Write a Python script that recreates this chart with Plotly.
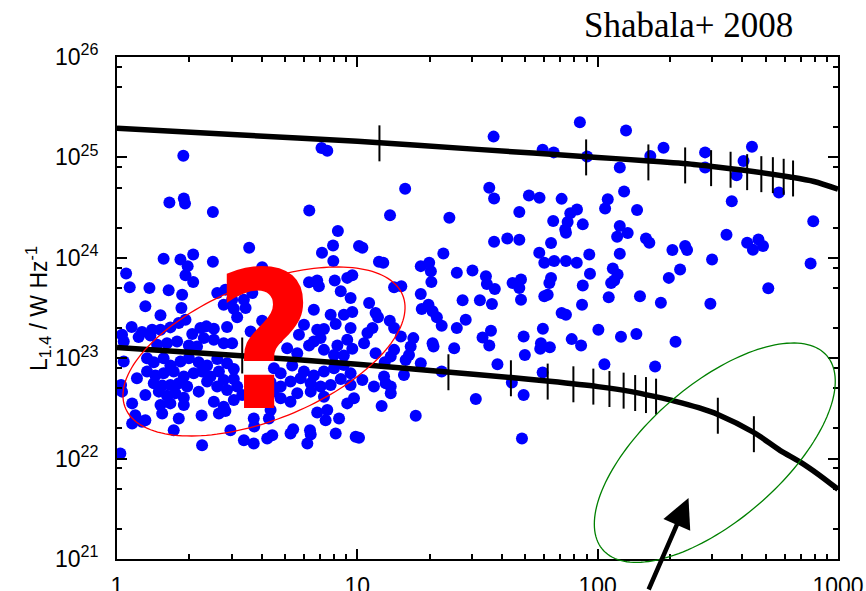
import numpy as np
import plotly.graph_objects as go

# ---------------- data (stored as log10 values) ----------------
# log10 of linear size (kpc) and log10 of 1.4 GHz luminosity (W/Hz) for the sources
log_size = [
    # upper left
    0.276, 0.851, 0.875, 0.218, 0.278, 0.283, 0.399, 0.800, 0.919, 0.550, 0.899, 0.853, 0.317,
    # dense cluster, top strip
    0.194, 0.264, 0.294, 0.399, 0.285, 0.317, 0.038, 0.053, 0.135, 0.215, 0.271, 0.417, 0.451, 0.563,
    0.604, 0.799, 0.833, 0.840, 0.900, 0.906, 0.958, 0.979, 0.931, 0.972,
    # mid upper
    0.118, 0.181, 0.268, 0.444, 0.479, 0.486, 0.535, 0.528, 0.500, 0.819, 0.889, 0.944, 0.979, 0.604,
    0.664, 0.778, 0.910,
    # around the lower track
    0.061, 0.021, 0.028, 0.104, 0.090, 0.139, 0.146, 0.181, 0.222, 0.257, 0.285, 0.313, 0.347, 0.372,
    0.403, 0.458, 0.361, 0.403, 0.444, 0.479, 0.167, 0.208, 0.250, 0.299, 0.333, 0.556, 0.618, 0.757,
    0.833, 0.861, 0.847, 0.819, 0.972, 0.958, 0.917, 0.979, 0.708, 0.750, 0.799, 0.861, 0.903, 0.944,
    0.667,
    # below the lower track
    0.028, 0.125, 0.153, 0.194, 0.222, 0.264, 0.299, 0.340, 0.375, 0.417, 0.458, 0.486, 0.125, 0.160,
    0.194, 0.236, 0.278, 0.319, 0.354, 0.389, 0.424, 0.444, 0.486, 0.083, 0.153, 0.188, 0.222, 0.257,
    0.292, 0.340, 0.375, 0.417, 0.458, 0.500, 0.017, 0.021, 0.118, 0.174, 0.208, 0.243, 0.278, 0.653,
    0.681, 0.729, 0.778, 0.819, 0.861, 0.903, 0.944, 0.972, 0.639, 0.681, 0.722, 0.764, 0.806, 0.847,
    0.889, 0.931, 0.653, 0.750, 0.806, 0.861, 0.972,
    # lower part of the cluster
    0.063, 0.181, 0.222, 0.278, 0.403, 0.444, 0.486, 0.521, 0.188, 0.076, 0.118, 0.257, 0.352, 0.424,
    0.451, 0.569, 0.639, 0.632, 0.681, 0.722, 0.833, 0.875, 0.868, 0.924, 0.958, 0.986, 0.063, 0.104,
    0.571,
    0.236, 0.472, 0.528, 0.569, 0.625, 0.646, 0.722, 0.733, 0.803, 0.806, 0.792, 0.910, 0.993, 0.354,
    0.014,
    # 10-100 kpc, upper
    1.926, 1.567, 1.771, 1.817, 1.956, 1.199, 1.549, 1.569, 1.714, 1.758, 1.850, 1.136, 1.383, 1.674,
    1.886, 1.914, 1.815, 1.875, 1.865, 1.868, 1.938, 1.007, 1.021, 1.569, 1.624, 1.674, 1.806, 1.358,
    1.757, 1.965,
    # 10-100 kpc, lower
    1.090, 1.108, 1.264, 1.299, 1.306, 1.414, 1.479, 1.535, 1.539, 1.572, 1.646, 1.681, 1.674, 1.778,
    1.819, 1.868, 1.913, 1.968, 1.806, 1.799, 1.792, 1.778, 1.938, 1.308, 1.153, 1.183, 1.264, 1.438,
    1.510, 1.560, 1.681, 1.850, 1.868, 1.935, 1.049, 1.076, 1.086, 1.268, 1.296, 1.313, 1.331, 1.135,
    1.153, 1.181, 1.063, 1.042, 1.028, 1.076, 1.451, 1.351, 1.414, 1.521, 1.556, 1.549, 1.403, 1.313,
    1.317, 1.233, 1.222, 1.215, 1.201, 1.264, 1.153, 1.139, 1.114, 1.772, 1.692, 1.697, 1.764, 1.761,
    1.801, 1.892, 1.931, 1.583, 1.771, 1.351, 1.194, 1.111, 1.118, 1.139, 1.139, 1.069, 1.021, 1.101,
    1.243, 1.493, 1.643, 1.692, 1.685, 1.007,
    # 100-1000 kpc, upper
    2.118, 2.274, 2.219, 2.447, 2.642, 2.092, 2.447, 2.607, 2.578, 2.042, 2.031, 2.110, 2.164, 2.558,
    2.754, 2.897, 2.092, 2.081, 2.125, 2.201, 2.215, 2.311, 2.364, 2.372, 2.536, 2.622, 2.646, 2.669,
    2.688, 2.092,
    # 100-1000 kpc, lower
    2.476, 2.886, 2.063, 2.083, 2.056, 2.069, 2.343, 2.296, 2.046, 2.176, 2.263, 2.469, 2.710, 2.003,
    2.097, 2.161, 2.324, 2.028, 2.239,
]
log_lum = [
    25.017, 25.093, 25.067, 24.550, 24.590, 24.540, 24.457, 24.470, 24.267, 24.100, 24.123, 24.050, 24.033,
    23.990, 23.983, 23.917, 23.960, 23.827, 23.760, 23.843, 23.707, 23.700, 23.677, 23.633, 23.650, 23.683, 23.650,
    23.907, 23.757, 23.773, 23.717, 23.967, 23.773, 23.800, 23.827, 23.667, 23.600,
    23.517, 23.427, 23.500, 23.533, 23.583, 23.493, 23.500, 23.583, 23.407, 23.483, 23.433, 23.433, 23.460, 23.373,
    23.393, 23.333, 23.340,
    23.310, 23.233, 23.167, 23.260, 23.210, 23.227, 23.283, 23.283, 23.307, 23.350, 23.383, 23.240, 23.300, 23.317,
    23.293, 23.310, 23.200, 23.183, 23.150, 23.150, 23.133, 23.150, 23.167, 23.127, 23.117, 23.267, 23.300, 23.233,
    23.283, 23.290, 23.200, 23.167, 23.300, 23.183, 23.127, 23.093, 23.100, 23.050, 23.127, 23.083, 23.033, 23.027,
    23.200,
    22.967, 23.000, 22.960, 23.000, 22.927, 22.967, 23.000, 22.960, 22.927, 22.993, 22.950, 22.893, 22.867, 22.827,
    22.850, 22.867, 22.817, 22.850, 22.867, 22.817, 22.867, 22.783, 22.793, 22.800, 22.750, 22.727, 22.733, 22.750,
    22.717, 22.667, 22.767, 22.717, 22.683, 22.717, 22.733, 22.667, 22.633, 22.667, 22.627, 22.650, 22.607, 22.900,
    22.850, 22.927, 22.867, 22.827, 22.867, 22.900, 22.933, 22.850, 22.760, 22.717, 22.767, 22.800, 22.750, 22.717,
    22.733, 22.793, 22.667, 22.650, 22.667, 22.617, 22.733,
    22.550, 22.533, 22.550, 22.533, 22.567, 22.517, 22.583, 22.633, 22.450, 22.433, 22.383, 22.400, 22.430, 22.450,
    22.473, 22.400, 22.483, 22.400, 22.600, 22.567, 22.460, 22.483, 22.383, 22.400, 22.550, 22.600, 22.350, 22.367,
    22.320,
    22.283, 22.283, 22.183, 22.150, 22.200, 22.233, 22.250, 22.293, 22.283, 22.240, 22.150, 22.250, 22.217, 22.133,
    22.050,
    25.350, 25.207, 25.077, 25.050, 25.010, 24.687, 24.697, 24.590, 24.620, 24.597, 24.587, 24.423, 24.400, 24.457,
    24.443, 24.480, 24.367, 24.357, 24.283, 24.250, 24.333, 24.117, 24.100, 24.160, 24.193, 24.180, 24.147, 24.043,
    24.050, 24.033,
    23.960, 23.950, 23.917, 23.950, 23.867, 23.850, 23.873, 23.817, 23.740, 23.690, 23.750, 23.783, 23.700, 23.950,
    23.967, 23.967, 23.950, 23.840, 23.800, 23.750, 23.633, 23.617, 23.723, 23.760, 23.707, 23.717, 23.640, 23.577,
    23.577, 23.540, 23.583, 23.450, 23.433, 23.533, 23.550, 23.450, 23.407, 23.490, 23.533, 23.467, 23.407, 23.373,
    23.300, 23.217, 23.300, 23.250, 23.150, 23.050, 23.383, 23.323, 23.300, 23.207, 23.273, 23.127, 23.100, 23.150,
    23.117, 23.200, 23.117, 23.033, 22.983, 22.950, 23.083, 23.017, 22.960, 23.293, 23.217, 23.033, 23.150, 23.093,
    23.110, 23.190, 23.127, 22.940, 22.857, 22.867, 22.833, 22.817, 22.750, 22.717, 22.650, 22.717, 22.783, 22.523,
    22.427, 22.593, 22.757, 22.633, 22.200, 22.207,
    25.267, 25.097, 25.013, 25.050, 25.107, 24.900, 24.900, 24.963, 24.823, 24.583, 24.490, 24.660, 24.477, 24.563,
    24.650, 24.363, 24.317, 24.210, 24.247, 24.193, 24.150, 24.077, 24.117, 24.077, 24.230, 24.150, 24.080, 24.183,
    24.117, 24.040,
    23.983, 23.943, 23.893, 23.833, 23.750, 23.773, 23.883, 23.800, 23.607, 23.617, 23.553, 23.543, 23.697, 23.283,
    23.213, 23.240, 23.163, 22.940, 22.917,
]

# model tracks (log10 size, log10 luminosity)
track_hi_logsize = [0.0, 0.5, 1.0, 1.5, 2.0, 2.2, 2.4, 2.6, 2.8, 2.9, 3.0]
track_hi_loglum = [25.29, 25.225, 25.16, 25.08, 25.0, 24.967, 24.93, 24.875, 24.805, 24.76, 24.683]
track_lo_logsize = [0.0, 0.5, 1.0, 1.35, 1.64, 1.8, 2.0, 2.14, 2.24, 2.32, 2.42, 2.5, 2.65, 2.76, 2.84, 2.92, 3.0]
track_lo_loglum = [23.107, 23.027, 22.94, 22.867, 22.807, 22.77, 22.717, 22.667, 22.617, 22.573, 22.507,
                   22.44, 22.26, 22.08, 21.97, 21.84, 21.694]

# age marks on the tracks
age_hi_logsize = [1.092, 1.952, 2.211, 2.364, 2.472, 2.553, 2.622, 2.681, 2.729, 2.774, 2.813]
age_hi_loglum = [25.14, 25.0, 24.95, 24.92, 24.893, 24.877, 24.853, 24.833, 24.823, 24.807, 24.79]
age_lo_logsize = [0.521, 1.379, 1.639, 1.792, 1.899, 1.982, 2.049, 2.108, 2.156, 2.201, 2.243, 2.5, 2.65]
age_lo_loglum = [23.027, 22.86, 22.80, 22.767, 22.74, 22.717, 22.693, 22.677, 22.653, 22.633, 22.617,
                 22.427, 22.243]

x_tickvals = [1, 10, 100, 1000]
x_ticktext = ["1", "10", "100", "1000"]
y_tickvals = [1e21, 1e22, 1e23, 1e24, 1e25, 1e26]
y_ticktext = ["10<sup>21</sup>", "10<sup>22</sup>", "10<sup>23</sup>",
              "10<sup>24</sup>", "10<sup>25</sup>", "10<sup>26</sup>"]
x_minor = [k * 10 ** n for n in range(0, 3) for k in range(2, 10)]
y_minor = [k * 10.0 ** n for n in range(21, 26) for k in (2, 5, 8)]

# ---------------- figure ----------------
W, H = 866, 591
ML, MR, MT, MB = 117, 28, 57, 32
PW, PH = W - ML - MR, H - MT - MB

def to_paper(px, py):
    return (np.asarray(px) - ML) / PW, (H - MB - np.asarray(py)) / PH

def ellipse_path(cx, cy, a, b, theta_deg, n=160):
    t = np.linspace(0, 2 * np.pi, n)
    th = np.radians(theta_deg)
    px = cx + a * np.cos(t) * np.cos(th) - b * np.sin(t) * np.sin(th)
    py = cy - (a * np.cos(t) * np.sin(th) + b * np.sin(t) * np.cos(th))
    xp, yp = to_paper(px, py)
    return "M " + " L ".join(f"{x:.5f},{y:.5f}" for x, y in zip(xp, yp)) + " Z"

fig = go.Figure()
fig.add_trace(go.Scatter(
    x=10 ** np.array(log_size), y=10 ** np.array(log_lum), mode="markers",
    marker=dict(color="#0000ff", size=12, line=dict(width=0)), showlegend=False))
for lx, ly in [(track_hi_logsize, track_hi_loglum), (track_lo_logsize, track_lo_loglum)]:
    fig.add_trace(go.Scatter(
        x=10 ** np.array(lx), y=10 ** np.array(ly), mode="lines",
        line=dict(color="black", width=5.5, shape="spline", smoothing=0.8), showlegend=False))
for lx, ly in [(age_hi_logsize, age_hi_loglum), (age_lo_logsize, age_lo_loglum)]:
    fig.add_trace(go.Scatter(
        x=10 ** np.array(lx), y=10 ** np.array(ly), mode="markers",
        marker=dict(symbol="line-ns", size=25.7, color="black", line=dict(color="black", width=2)),
        showlegend=False))

axis_common = dict(
    showline=True, linecolor="black", linewidth=2, mirror="allticks",
    ticks="inside", ticklen=10, tickwidth=2, tickcolor="black",
    showgrid=False, zeroline=False, automargin=False,
    tickfont=dict(family="Liberation Sans, Arial, sans-serif", size=23, color="black"),
)
fig.update_xaxes(type="log", range=[0, 3], tickmode="array", tickvals=x_tickvals, ticktext=x_ticktext,
                 ticklabelstandoff=5,
                 minor=dict(tickmode="array", tickvals=x_minor, ticks="inside", ticklen=5, tickwidth=2,
                            tickcolor="black", showgrid=False),
                 **axis_common)
fig.update_yaxes(type="log", range=[21, 26], tickmode="array", tickvals=y_tickvals, ticktext=y_ticktext,
                 ticklabelstandoff=12,
                 minor=dict(tickmode="array", tickvals=y_minor, ticks="inside", ticklen=5, tickwidth=2,
                            tickcolor="black", showgrid=False),
                 **axis_common)

shapes = [
    dict(type="path", xref="paper", yref="paper", path=ellipse_path(264, 351.5, 149.7, 68, 22.1),
         line=dict(color="red", width=1.3)),
    dict(type="path", xref="paper", yref="paper", path=ellipse_path(714.8, 452.7, 148.2, 67.7, 40.9),
         line=dict(color="green", width=1.3)),
]

qx, qy = to_paper(264, 343)
tx, ty = to_paper(582, 25.5)
lx, ly = to_paper(38, 309)
ax_, ay_ = to_paper(688.5, 498)
annotations = [
    dict(xref="paper", yref="paper", x=float(qx), y=float(qy), text="<b>?</b>", showarrow=False,
         xanchor="center", yanchor="middle",
         font=dict(family="Liberation Sans Narrow, DejaVu Sans Condensed, Liberation Sans, Arial", size=190,
                   color="red")),
    dict(xref="paper", yref="paper", x=float(tx), y=float(ty), text="Shabala+ 2008", showarrow=False,
         xanchor="left", yanchor="middle",
         font=dict(family="Liberation Serif, Times New Roman, serif", size=35, color="black")),
    dict(xref="paper", yref="paper", x=float(lx), y=float(ly), text="L<sub>1.4</sub> / W Hz<sup>-1</sup>",
         showarrow=False, textangle=-90, xanchor="center", yanchor="middle",
         font=dict(family="Liberation Sans, Arial, sans-serif", size=23, color="black")),
    dict(xref="paper", yref="paper", x=float(ax_), y=float(ay_), text="", showarrow=True,
         ax=-40.5, ay=102, arrowhead=2, arrowsize=1.3, arrowwidth=4.5, arrowcolor="black", standoff=0),
]

fig.update_layout(
    width=W, height=H, margin=dict(l=ML, r=MR, t=MT, b=MB, pad=0),
    paper_bgcolor="white", plot_bgcolor="white",
    shapes=shapes, annotations=annotations, showlegend=False,
)
fig.write_html("out.html", config={"displayModeBar": False},
               post_script="document.body.style.margin='0px';document.body.style.overflow='hidden';")
